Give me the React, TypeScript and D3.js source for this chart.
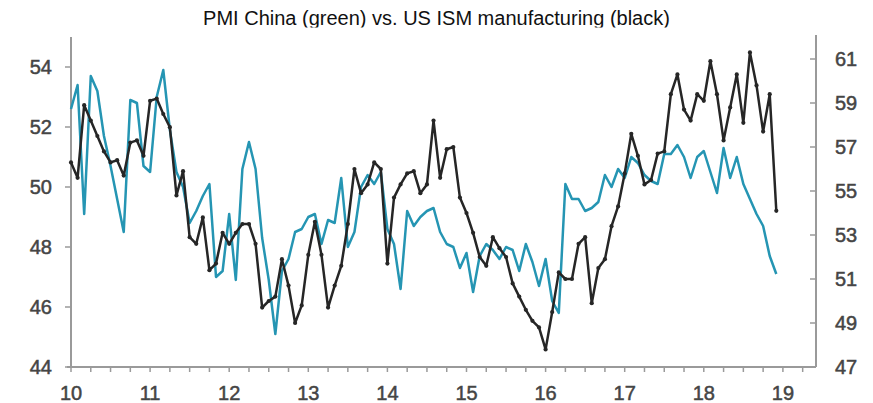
import React from "react";
import * as d3 from "d3";

const START_YEAR = 2010;
const yearTicks = [10, 11, 12, 13, 14, 15, 16, 17, 18, 19];
const leftTicks = [44, 46, 48, 50, 52, 54];
const rightTicks = [47, 49, 51, 53, 55, 57, 59, 61];

// US ISM manufacturing (black, right axis), monthly from Jan 2010
const ismValues = [
  56.3, 55.6, 58.9, 58.2, 57.5, 56.8, 56.3, 56.4, 55.7, 57.2, 57.3, 56.6,
  59.1, 59.2, 58.5, 57.9, 54.8, 55.9, 52.9, 52.6, 53.8, 51.4, 51.7, 53.1,
  52.6, 53.1, 53.5, 53.5, 52.6, 49.7, 50.0, 50.2, 51.9, 50.7, 49.0, 49.8,
  52.1, 53.6, 52.1, 49.7, 50.7, 51.6, 53.5, 56.0, 54.9, 55.3, 56.3, 56.0,
  51.7, 54.7, 55.3, 55.8, 55.9, 54.9, 55.3, 58.2, 55.6, 56.9, 57.0, 54.7,
  54.0, 53.1, 52.0, 51.6, 52.9, 52.4, 52.0, 50.8, 50.2, 49.6, 49.1, 48.8,
  47.8, 49.5, 51.3, 51.0, 51.0, 52.6, 52.9, 49.9, 51.5, 51.9, 53.4, 54.3,
  55.8, 57.6, 56.6, 55.3, 55.5, 56.7, 56.8, 59.4, 60.3, 58.7, 58.2, 59.4,
  59.1, 60.9, 59.4, 57.3, 58.8, 60.3, 58.1, 61.3, 59.8, 57.7, 59.4, 54.1,
];

// PMI China (green, left axis), monthly from Jan 2010
const chinaValues = [
  52.6, 53.4, 49.1, 53.7, 53.2, 51.7, 50.7, 49.6, 48.5, 52.9, 52.8, 50.7,
  50.5, 53.0, 53.9, 51.9, 50.5, 50.0, 48.8, 49.2, 49.7, 50.1, 47.0, 47.2,
  49.1, 46.9, 50.6, 51.5, 50.6, 48.3, 46.9, 45.1, 47.2, 47.6, 48.5, 48.6,
  49.0, 49.1, 48.1, 48.9, 48.8, 50.3, 48.0, 48.5, 50.0, 50.4, 50.1, 50.5,
  48.6, 48.1, 46.6, 49.2, 48.7, 49.0, 49.2, 49.3, 48.5, 48.1, 48.0, 47.3,
  47.8, 46.5, 47.7, 48.1, 47.9, 47.6, 48.0, 47.9, 47.2, 48.1, 47.5, 46.7,
  47.6, 46.2, 45.8, 50.1, 49.6, 49.6, 49.2, 49.3, 49.5, 50.4, 50.0, 50.6,
  50.3, 51.0, 50.8, 50.4, 50.2, 50.1, 51.1, 51.1, 51.4, 51.0, 50.3, 51.0,
  51.2, 50.5, 49.8, 51.3, 50.3, 51.0, 50.1, 49.6, 49.1, 48.7, 47.7, 47.1,
];

const W = 873;
const H = 403;
const LEFT = 71;
const RIGHT = 816;
const TOP = 37;
const BOTTOM = 367;

const AXIS_COLOR = "#9a9a9a";
const LABEL_COLOR = "#454545";
const GREEN = "#2595b3";
const BLACK = "#262626";
const FONT = "'Liberation Sans', Arial, sans-serif";

export default function App() {
  const x = d3.scaleLinear().domain([START_YEAR, START_YEAR + 745 / 79.1]).range([LEFT, RIGHT]);
  const yL = d3.scaleLinear().domain([44, 55]).range([BOTTOM, TOP]);
  const yR = d3.scaleLinear().domain([47, 62]).range([BOTTOM, TOP]);

  const t = (i: number) => START_YEAR + i / 12;

  const greenLine = d3
    .line<number>()
    .x((_, i) => x(t(i)))
    .y((d) => yL(d));
  const blackLine = d3
    .line<number>()
    .x((_, i) => x(t(i)))
    .y((d) => yR(d));

  const quarterTicks = d3.range(0, 38).map((q) => START_YEAR + q * 0.25);

  const labelProps = {
    fontSize: 20,
    fill: LABEL_COLOR,
    stroke: LABEL_COLOR,
    strokeWidth: 0.5,
  };

  return (
    <svg
      width={W}
      height={H}
      style={{ position: "absolute", left: 0, top: 0, background: "#fff" }}
      fontFamily={FONT}
    >
      <defs>
        <clipPath id="titleClip">
          <rect x={0} y={0} width={W} height={27.5} />
        </clipPath>
      </defs>
      <rect x={0} y={0} width={W} height={H} fill="#fff" />
      <text
        x={436.5}
        y={24.5}
        textAnchor="middle"
        fontSize={20}
        fill="#111"
        clipPath="url(#titleClip)"
      >
        PMI China (green) vs. US ISM manufacturing (black)
      </text>

      {/* axes */}
      <line x1={LEFT} x2={LEFT} y1={TOP} y2={BOTTOM} stroke={AXIS_COLOR} strokeWidth={2} />
      <line x1={RIGHT} x2={RIGHT} y1={TOP - 2} y2={BOTTOM} stroke={AXIS_COLOR} strokeWidth={2} />
      <line x1={LEFT - 4} x2={RIGHT} y1={BOTTOM} y2={BOTTOM} stroke={AXIS_COLOR} strokeWidth={2} />

      {leftTicks.map((v) => (
        <g key={"l" + v}>
          <line x1={LEFT - 6} x2={LEFT} y1={yL(v)} y2={yL(v)} stroke={AXIS_COLOR} strokeWidth={1.5} />
          <text x={52} y={yL(v) + 7} textAnchor="end" {...labelProps}>
            {v}
          </text>
        </g>
      ))}
      {rightTicks.map((v) => (
        <g key={"r" + v}>
          <line x1={RIGHT - 6} x2={RIGHT} y1={yR(v)} y2={yR(v)} stroke={AXIS_COLOR} strokeWidth={1.5} />
          <text x={835} y={yR(v) + 7} textAnchor="start" {...labelProps}>
            {v}
          </text>
        </g>
      ))}
      {quarterTicks.map((q) => (
        <line
          key={"q" + q}
          x1={x(q)}
          x2={x(q)}
          y1={BOTTOM}
          y2={BOTTOM + 5}
          stroke={AXIS_COLOR}
          strokeWidth={1.5}
        />
      ))}
      {yearTicks.map((yr) => (
        <text key={"y" + yr} x={x(2000 + yr)} y={400} textAnchor="middle" {...labelProps}>
          {yr}
        </text>
      ))}

      {/* series */}
      <path d={greenLine(chinaValues) || ""} fill="none" stroke={GREEN} strokeWidth={2.5} strokeLinejoin="round" />
      <path d={blackLine(ismValues) || ""} fill="none" stroke={BLACK} strokeWidth={2.5} strokeLinejoin="round" />
      {ismValues.map((v, i) => (
        <circle key={"m" + i} cx={x(t(i))} cy={yR(v)} r={2.1} fill={BLACK} />
      ))}
    </svg>
  );
}
